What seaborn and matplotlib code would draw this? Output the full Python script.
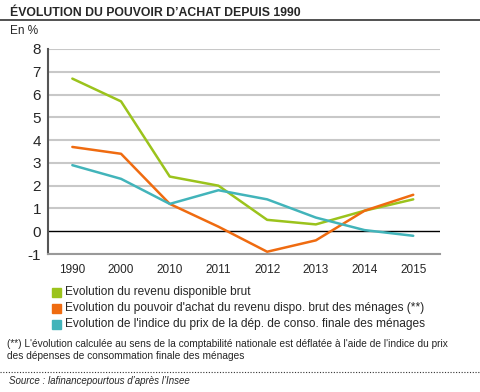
import matplotlib
matplotlib.use("Agg")
import matplotlib.pyplot as plt
import matplotlib.transforms as mtransforms
from matplotlib.lines import Line2D
from matplotlib.patches import Rectangle
import seaborn as sns
import pandas as pd

years = ["1990", "2000", "2010", "2011", "2012", "2013", "2014", "2015"]
revenu_brut = [6.7, 5.7, 2.4, 2.0, 0.5, 0.3, 0.9, 1.4]
pouvoir_achat = [3.7, 3.4, 1.2, 0.2, -0.9, -0.4, 0.9, 1.6]
indice_prix = [2.9, 2.3, 1.2, 1.8, 1.4, 0.6, 0.05, -0.2]

labels = [
    "Evolution du revenu disponible brut",
    "Evolution du pouvoir d'achat du revenu dispo. brut des ménages (**)",
    "Evolution de l'indice du prix de la dép. de conso. finale des ménages",
]
colors = ["#9BC31C", "#EF6B10", "#42B4BA"]

df = pd.DataFrame({"x": list(range(len(years))) * 3,
                   "value": revenu_brut + pouvoir_achat + indice_prix,
                   "serie": [labels[0]] * 8 + [labels[1]] * 8 + [labels[2]] * 8})

sns.set_style("white")
plt.rcParams["font.family"] = ["Liberation Sans", "DejaVu Sans"]

fig = plt.figure(figsize=(4.8, 3.92), dpi=100)
ax = fig.add_axes([0.1, 0.352, 0.8167, 0.523])

for y in range(-1, 9):
    if y == 0:
        continue
    ax.axhline(y, color="#c8c8c8", lw=1.5, zorder=0)
ax.axhline(0, color="black", lw=1.0, zorder=1)

sns.lineplot(data=df, x="x", y="value", hue="serie", palette=colors,
             linewidth=1.8, legend=False, ax=ax, zorder=3)

ax.set_xlim(-0.5, 7.55)
ax.set_ylim(-1, 8)
ax.set_yticks(range(-1, 9))
ax.set_yticklabels([str(v) for v in range(-1, 9)], fontsize=11)
ax.set_xticks(range(len(years)))
ax.set_xticklabels(years, fontsize=8.5)
offset = mtransforms.ScaledTranslation(13 / 100, 0, fig.dpi_scale_trans)
for lab in ax.get_xticklabels():
    lab.set_transform(lab.get_transform() + offset)
ax.tick_params(axis="both", length=0, pad=7)
ax.tick_params(axis="y", pad=5)
ax.set_xlabel("")
ax.set_ylabel("")
for s in ["top", "right"]:
    ax.spines[s].set_visible(False)
ax.spines["left"].set_color("#555555")
ax.spines["left"].set_linewidth(1.5)
ax.spines["bottom"].set_color("#999999")
ax.spines["bottom"].set_linewidth(1.5)

# title and header
fig.text(0.02, 0.966, "ÉVOLUTION DU POUVOIR D’ACHAT DEPUIS 1990", fontsize=8.8,
         fontweight="bold", va="center")
fig.add_artist(Line2D([0, 1], [0.948, 0.948], color="#333333", lw=1.2))
fig.text(0.02, 1 - 31 / 392, "En %", fontsize=8.5, va="center")

# legend
for i, (lab, c) in enumerate(zip(labels, colors)):
    yy = 1 - (292 + 16 * i) / 392
    fig.add_artist(Rectangle((52 / 480, yy - 4.5 / 392), 9 / 480, 9 / 392,
                             transform=fig.transFigure, color=c))
    fig.text(65 / 480, yy, lab, fontsize=8.6, va="center")

fig.text(0.015, 1 - 344 / 392,
         "(**) L'évolution calculée au sens de la comptabilité nationale est déflatée à l'aide de l'indice du prix",
         fontsize=7.3, va="center")
fig.text(0.015, 1 - 356 / 392, "des dépenses de consommation finale des ménages",
         fontsize=7.3, va="center")
fig.add_artist(Line2D([0, 1], [1 - 372 / 392] * 2, color="#333333", lw=0.8, ls=(0, (1, 1.5))))
fig.text(0.018, 1 - 381 / 392, "Source : lafinancepourtous d’après l’Insee", fontsize=7,
         style="italic", va="center")

fig.savefig("out.png", dpi=100)
